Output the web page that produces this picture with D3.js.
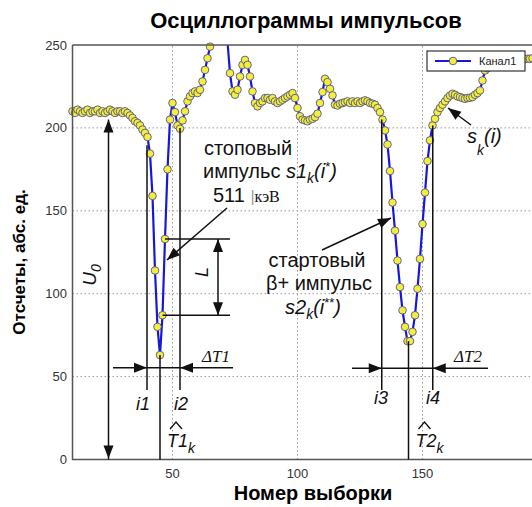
<!DOCTYPE html>
<html><head><meta charset="utf-8">
<script src="https://cdn.jsdelivr.net/npm/d3@7"></script>
<style>body{margin:0;background:#fff}svg{display:block}</style>
</head><body><svg id="c" width="532" height="507"></svg>
<script>
// ---- data ----
const titleText = "Осциллограммы импульсов";
const xLabel = "Номер выборки";
const yLabel = "Отсчеты, абс. ед.";
const seriesName = "Канал1";
const startSample = 10;
const values = [
210,209,211,210,209,210,211,209,210,210,211,209,210,209,210,211,210,209,210,210,209,210,
209,207.5,206,204,203,201.5,199,197,194.5,
184.5,159,114,80,63,87,133,175,205,
215,209.5,201.5,199.5,204.5,210,216,219,221,222,
221,223,228,235,242,249,256,262,266,268,
265,260,252,233,222,220,223,231,238,241,
238,231,222,215,213,215,216,218,218,217,
218,216,215,216,217,218,219,220,221,218,
212,207,205,204.5,204,205,205.5,206.5,208.6,215,
221.6,229.6,227.6,223.6,219.6,214,213.5,214.6,215,215.5,
216,215,216,215,216,215,216,216.6,216,215,
214.6,214,212,209.5,205,198.5,190,174,155,138,
120,104,90,80,71.4,71.4,77,87,103,121,
142,161,180,192.5,201.5,205.5,209.5,212,214,216,
218,219.5,220.6,220,219,218.6,218,217.6,218,218.2,
218.6,220,221,222.6,228.6,234.6,236,237.5,238.6,239.5,
240,240.7,241,241.5,242,242,241.5,241,241.5,242,242,241.5,241.7,241.7,242
];
const xTicks = [50, 100, 150];
const yTicks = [0, 50, 100, 150, 200, 250];
const xDomain = [10, 200];
const yDomain = [0, 250];
// annotation anchors (sample index / counts)
const pulse1 = {i1: 39.8, i2: 53, T: 45, min: 63, top: 133, bottom: 87};
const pulse2 = {i3: 133.7, i4: 154.1, T: 144.4, min: 71.4};
const baseLevel = 205;

const points = values.map((v, k) => ({i: startSample + k, v}));

const svg = d3.select("#c");
const x = d3.scaleLinear().domain(xDomain).range([72.5, 547.5]);
const y = d3.scaleLinear().domain(yDomain).range([459.5, 45]);
const FONT = "'Liberation Sans', Arial, sans-serif";
const SERIF = "'Liberation Serif', 'Times New Roman', serif";

svg.append("defs").append("clipPath").attr("id", "clip")
  .append("rect").attr("x", x(xDomain[0])).attr("y", y(250))
  .attr("width", 600).attr("height", y(0) - y(250));

// grid
const grid = svg.append("g").attr("stroke", "#9a9a9a").attr("stroke-width", 1).attr("stroke-dasharray", "1.5,2.5");
grid.selectAll(".gx").data(xTicks).join("line")
  .attr("x1", d => x(d)).attr("x2", d => x(d)).attr("y1", y(0)).attr("y2", y(250));
grid.selectAll(".gy").data(yTicks.filter(d => d > 0 && d < 250)).join("line")
  .attr("x1", x(xDomain[0])).attr("x2", 532).attr("y1", d => y(d)).attr("y2", d => y(d));

// series
const line = d3.line().x(d => x(d.i)).y(d => y(d.v));
svg.append("path").datum(points).attr("clip-path", "url(#clip)")
  .attr("fill", "none").attr("stroke", "#1717d9").attr("stroke-width", 2.2).attr("d", line);
svg.append("g").selectAll("circle").data(points.filter(d => d.v <= 250)).join("circle")
  .attr("cx", d => x(d.i)).attr("cy", d => y(d.v)).attr("r", 3.8)
  .attr("fill", "#f2ee3a").attr("stroke", "#55558a").attr("stroke-width", 0.9);

// axes frame
const ax = svg.append("g").attr("stroke", "#555").attr("stroke-width", 1.5).attr("fill", "none");
ax.append("path").attr("d", `M${x(xDomain[0])},${y(250)}V${y(0)}H532`);
ax.append("path").attr("d", `M${x(xDomain[0])},${y(250)}H532`);

// tick labels
svg.append("g").selectAll("text").data(yTicks).join("text")
  .attr("x", 67).attr("y", d => y(d)).attr("dy", "0.35em").attr("text-anchor", "end")
  .attr("font-family", FONT).attr("font-size", 13).attr("fill", "#333").text(d => d);
svg.append("g").selectAll("text").data(xTicks).join("text")
  .attr("x", d => x(d)).attr("y", 478).attr("text-anchor", "middle")
  .attr("font-family", FONT).attr("font-size", 13).attr("fill", "#333").text(d => d);

// titles
svg.append("text").attr("x", 306).attr("y", 28).attr("text-anchor", "middle")
  .attr("font-family", FONT).attr("font-weight", "bold").attr("font-size", 22).text(titleText);
svg.append("text").attr("x", 313).attr("y", 500).attr("text-anchor", "middle")
  .attr("font-family", FONT).attr("font-weight", "bold").attr("font-size", 20).text(xLabel);
svg.append("text").attr("transform", "translate(25,262) rotate(-90)").attr("text-anchor", "middle")
  .attr("font-family", FONT).attr("font-weight", "bold").attr("font-size", 17).text(yLabel);

// ---- annotations ----
const ann = svg.append("g");
function seg(x1, y1, x2, y2, w = 1.5) {
  ann.append("line").attr("x1", x1).attr("y1", y1).attr("x2", x2).attr("y2", y2)
    .attr("stroke", "#111").attr("stroke-width", w);
}
function head(tx, ty, fx, fy, len = 13, hw = 5) {
  const dx = tx - fx, dy = ty - fy, L = Math.hypot(dx, dy);
  const ux = dx / L, uy = dy / L, bx = tx - ux * len, by = ty - uy * len;
  ann.append("path").attr("fill", "#111")
    .attr("d", `M${tx},${ty}L${bx - uy * hw},${by + ux * hw}L${bx + uy * hw},${by - ux * hw}Z`);
}
function arrow(x1, y1, x2, y2) { seg(x1, y1, x2, y2); head(x2, y2, x1, y1); }
function label(xp, yp, txt, size, opts = {}) {
  const t = ann.append("text").attr("x", xp).attr("y", yp).attr("font-family", opts.family || FONT)
    .attr("font-size", size).attr("font-style", opts.italic ? "italic" : null)
    .attr("text-anchor", opts.anchor || "start").attr("fill", "#111");
  if (opts.rotate) t.attr("transform", `rotate(-90,${xp},${yp})`);
  return t.text(txt);
}

// U0 double arrow
const xu = x(24.4);
seg(xu, y(baseLevel), xu, y(0));
head(xu, y(baseLevel), xu, y(100)); head(xu, y(0) - 1, xu, y(100));
const u0 = label(96, 275, "", 19, {italic: true, anchor: "middle", rotate: true});
u0.append("tspan").text("U");
u0.append("tspan").attr("font-size", 14).attr("dy", 5).text("0");

// pulse 1 markers
const lowY = 390;
seg(x(pulse1.i1), y(189.5), x(pulse1.i1), lowY);
seg(x(pulse1.i2), y(200), x(pulse1.i2), lowY);
seg(x(pulse1.T), y(pulse1.min), x(pulse1.T), y(0));
const dty = y(55.3);
seg(113, dty, 233, dty);
head(x(pulse1.i1), dty, 100, dty); head(x(pulse1.i2), dty, 260, dty);
label(202, 362, "ΔT1", 17, {italic: true, family: SERIF});
label(143, 410, "i1", 18, {italic: true, anchor: "middle"});
label(181, 410, "i2", 18, {italic: true, anchor: "middle"});
function tHat(x0, num) {
  ann.append("path").attr("fill", "none").attr("stroke", "#111").attr("stroke-width", 1.3)
    .attr("d", `M${x0 + 3},429l6,-7l6,7`);
  const t = label(x0, 447, "", 18, {italic: true});
  t.append("tspan").text("T" + num);
  t.append("tspan").attr("font-size", 14).attr("dy", 6).text("k");
}
tHat(x(pulse1.T) + 7, 1);

// L
const yTop = y(pulse1.top), yBot = y(pulse1.bottom);
seg(x(47), yTop, 230, yTop); seg(x(46), yBot, 230, yBot);
seg(218, yTop, 218, yBot);
head(218, yTop, 218, yBot); head(218, yBot, 218, yTop);
label(208, 272, "L", 18, {italic: true, anchor: "middle", rotate: true});

// 511 arrow and text
arrow(227, 208, 167, 260);
label(248, 155, "стоповый", 20, {anchor: "middle"});
const t2 = label(203, 178, "импульс ", 20);
t2.append("tspan").attr("font-style", "italic").text("s1");
t2.append("tspan").attr("font-style", "italic").attr("font-size", 14).attr("dy", 5).text("k");
t2.append("tspan").attr("font-style", "italic").attr("dy", -5).text("(i");
t2.append("tspan").attr("font-size", 13).attr("dy", -7).text("*");
t2.append("tspan").attr("font-style", "italic").attr("dy", 7).text(")");
const t3 = label(213, 202, "511 ", 20);
t3.append("tspan").attr("fill", "#999").attr("font-size", 16).text("|");
t3.append("tspan").attr("font-family", SERIF).attr("font-size", 16).text("кэВ");

// pulse 2 markers
seg(x(pulse2.i3), y(205), x(pulse2.i3), lowY);
seg(x(pulse2.i4), y(201.5), x(pulse2.i4), lowY);
seg(x(pulse2.T), y(pulse2.min), x(pulse2.T), y(0));
const dty2 = y(55);
seg(352, dty2, 488, dty2);
head(x(pulse2.i3), dty2, 340, dty2); head(x(pulse2.i4), dty2, 500, dty2);
label(454, 362, "ΔT2", 17, {italic: true, family: SERIF});
label(381, 404, "i3", 18, {italic: true, anchor: "middle"});
label(433, 404, "i4", 18, {italic: true, anchor: "middle"});
tHat(x(pulse2.T) + 7, 2);

// start pulse text and arrow
arrow(322, 250, 391, 218);
label(317, 267, "стартовый", 20, {anchor: "middle"});
label(319, 290, "β+ импульс", 20, {anchor: "middle"});
const t4 = label(285, 314, "", 20, {italic: true});
t4.append("tspan").text("s2");
t4.append("tspan").attr("font-size", 14).attr("dy", 5).text("k");
t4.append("tspan").attr("dy", -5).text("(i");
t4.append("tspan").attr("font-style", "normal").attr("font-size", 13).attr("dy", -7).text("**");
t4.append("tspan").attr("dy", 7).text(")");

// s_k(i)
arrow(471, 125, 448, 108);
const t5 = label(467, 143, "", 20, {italic: true});
t5.append("tspan").text("s");
t5.append("tspan").attr("font-size", 14).attr("dy", 12).text("k");
t5.append("tspan").attr("dy", -12).text("(i)");

// legend
const lg = svg.append("g");
lg.append("rect").attr("x", 427).attr("y", 51).attr("width", 98).attr("height", 20)
  .attr("fill", "#fff").attr("stroke", "#333").attr("stroke-width", 1.2);
lg.append("line").attr("x1", 435).attr("x2", 471).attr("y1", 61).attr("y2", 61)
  .attr("stroke", "#1717d9").attr("stroke-width", 2.2);
lg.append("circle").attr("cx", 453).attr("cy", 61).attr("r", 3.8)
  .attr("fill", "#f2ee3a").attr("stroke", "#55558a").attr("stroke-width", 0.9);
lg.append("text").attr("x", 479).attr("y", 65).attr("font-family", FONT).attr("font-size", 11)
  .attr("fill", "#222").text(seriesName);
</script></body></html>
